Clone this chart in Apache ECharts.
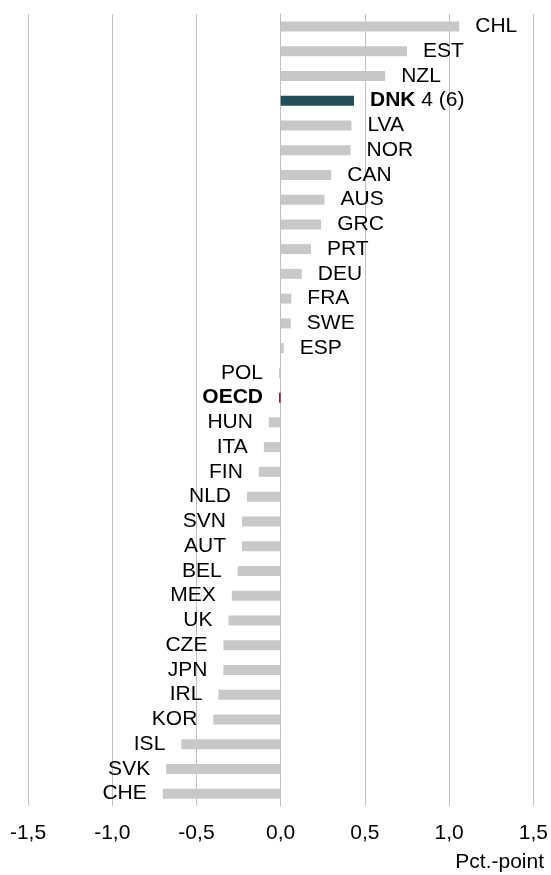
<!DOCTYPE html>
<html>
<head>
<meta charset="utf-8">
<script src="https://cdn.jsdelivr.net/npm/echarts@6/dist/echarts.min.js"></script>
<style>
  html, body { margin: 0; padding: 0; background: #fff; }
  #chart { width: 551px; height: 875px; }
</style>
</head>
<body>
<div id="chart"></div>
<script>
// countries, top to bottom
const countries = ['CHL', 'EST', 'NZL', 'DNK', 'LVA', 'NOR', 'CAN', 'AUS', 'GRC', 'PRT', 'DEU', 'FRA', 'SWE', 'ESP',
  'POL', 'OECD', 'HUN', 'ITA', 'FIN', 'NLD', 'SVN', 'AUT', 'BEL', 'MEX', 'UK', 'CZE', 'JPN', 'IRL', 'KOR', 'ISL', 'SVK', 'CHE'];
// change in pct.-points
const values = [1.06, 0.75, 0.62, 0.435, 0.42, 0.415, 0.30, 0.26, 0.24, 0.18, 0.125, 0.063, 0.06, 0.018,
  -0.01, -0.01, -0.07, -0.10, -0.13, -0.20, -0.23, -0.23, -0.255, -0.29, -0.31, -0.34, -0.34, -0.37, -0.40, -0.59, -0.68, -0.70];
const tickLabels = ['-1,5', '-1,0', '-0,5', '0,0', '0,5', '1,0', '1,5'];
const dnkRank = '4 (6)';

const FONT = 'Liberation Sans';
const chart = echarts.init(document.getElementById('chart'));

const barData = values.map((v, i) => {
  const name = countries[i];
  let color = '#c8c8c8';
  if (name === 'DNK') color = '#234e58';
  if (name === 'OECD') color = '#8c1d3e';
  return {
    value: v,
    itemStyle: { color: color },
    label: { position: v > 0 ? 'right' : 'left' }
  };
});

chart.setOption({
  animation: false,
  grid: { left: 28, right: 16, top: 14, bottom: 69 },
  graphic: [{
    type: 'text',
    x: 544,
    y: 862,
    style: {
      text: 'Pct.-point',
      font: '21px "Liberation Sans"',
      fill: '#000',
      textAlign: 'right',
      textVerticalAlign: 'middle'
    }
  }],
  xAxis: {
    type: 'value',
    min: -1.5,
    max: 1.5,
    interval: 0.5,
    axisLine: { show: false },
    axisTick: { show: false },
    splitLine: { lineStyle: { color: '#bfbfbf', width: 1 } },
    axisLabel: {
      margin: 17,
      fontFamily: FONT,
      fontSize: 21,
      color: '#000',
      formatter: v => tickLabels[Math.round((v + 1.5) / 0.5)]
    }
  },
  yAxis: {
    type: 'category',
    data: countries,
    inverse: true,
    axisLine: { show: true, onZero: true, lineStyle: { color: '#bfbfbf', width: 1 } },
    axisTick: { show: false },
    axisLabel: { show: false }
  },
  series: [{
    type: 'bar',
    data: barData,
    barWidth: 10,
    label: {
      show: true,
      distance: 16,
      fontFamily: FONT,
      fontSize: 21,
      color: '#000',
      formatter: p => {
        if (p.name === 'DNK') return '{b|DNK} ' + dnkRank;
        if (p.name === 'OECD') return '{b|OECD}';
        return p.name;
      },
      rich: {
        b: { fontFamily: FONT, fontSize: 21, fontWeight: 'bold', color: '#000' }
      }
    }
  }]
});
</script>
</body>
</html>
